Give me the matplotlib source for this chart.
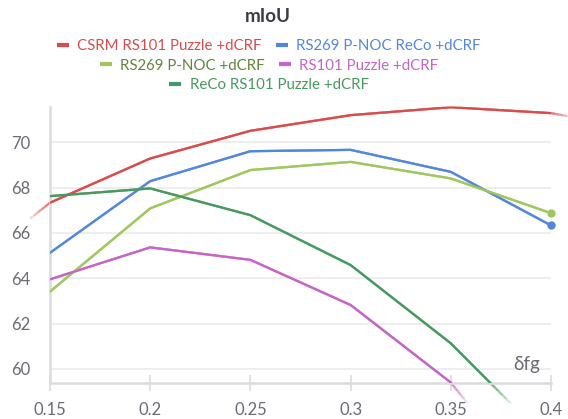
import numpy as np
import matplotlib
matplotlib.use('Agg')
import matplotlib.pyplot as plt
from matplotlib.lines import Line2D
from matplotlib.transforms import Bbox

plt.rcParams['font.family'] = ['Lato', 'DejaVu Sans']

## data
x_red = [0.10, 0.15, 0.20, 0.25, 0.30, 0.35, 0.40, 0.45]
y_red = [63.8, 67.33, 69.28, 70.50, 71.19, 71.54, 71.28, 70.5]
x_pts = [0.15, 0.20, 0.25, 0.30, 0.35, 0.40]
y_blue = [65.12, 68.28, 69.60, 69.66, 68.69, 66.33]
y_lgreen = [63.41, 67.08, 68.77, 69.13, 68.40, 66.87]
y_magenta = [63.95, 65.36, 64.81, 62.82, 59.40, 53.9]
y_dgreen = [67.62, 67.96, 66.78, 64.58, 61.13, 56.7]

labels = ['CSRM RS101 Puzzle +dCRF', 'RS269 P-NOC ReCo +dCRF',
          'RS269 P-NOC +dCRF', 'RS101 Puzzle +dCRF',
          'ReCo RS101 Puzzle +dCRF']
colors = ['#DA4C4C', '#5387DD', '#A0C75C', '#C565C7', '#479A5F']
text_colors = ['#DA4C4C', '#5387DD', '#62853A', '#C565C7', '#479A5F']
series = [(x_red, y_red), (x_pts, y_blue), (x_pts, y_lgreen),
          (x_pts, y_magenta), (x_pts, y_dgreen)]
end_marker = [False, True, True, False, False]

xticks = [0.15, 0.2, 0.25, 0.3, 0.35, 0.4]
xticklabels = ['0.15', '0.2', '0.25', '0.3', '0.35', '0.4']
yticks = [60, 62, 64, 66, 68, 70]

W, H = 568, 419
fig = plt.figure(figsize=(W/100, H/100), dpi=100)
ax = fig.add_axes([50/W, 1 - 383/H, (551-50)/W, (383-107)/H])
ax.set_xlim(0.15, 0.4)
ax.set_ylim(59.38, 71.55)

# faded bits outside the plot area: stacked clip boxes
fig.canvas.draw()
for pad in [4, 8, 12, 16, 20]:
    bb = ax.bbox
    box = Bbox.from_extents(bb.x0 - pad, bb.y0 - pad, bb.x1 + pad, bb.y1 + pad)
    for (xs, ys), c in zip(series, colors):
        ln, = ax.plot(xs, ys, color=c, lw=1.6, alpha=0.22, clip_on=True,
                      solid_capstyle='butt')
        ln.set_clip_box(box)

for (xs, ys), c, m in zip(series, colors, end_marker):
    ax.plot(xs, ys, color=c, lw=1.6, clip_on=True, zorder=3)
    if m:
        ax.plot(xs[-1], ys[-1], 'o', color=c, ms=5, clip_on=False, zorder=4)

ax.set_xticks(xticks)
ax.set_xticklabels(xticklabels)
ax.set_yticks(yticks)
ax.grid(axis='y', color='#ebebeb', lw=1.2)
ax.set_axisbelow(True)
for s in ['top', 'right']:
    ax.spines[s].set_visible(False)
for s in ['left', 'bottom']:
    ax.spines[s].set_color('#dcdcdf')
    ax.spines[s].set_linewidth(1.8)
ax.tick_params(axis='x', direction='inout', length=11, width=1.2,
               color='#dcdcdf', labelsize=12, labelcolor='#6b6b76', pad=8)
ax.tick_params(axis='y', length=0, labelsize=12, labelcolor='#6b6b76', pad=14)
ax.annotate('δfg', xy=(0.4, 59.38), xytext=(-8, 7), textcoords='offset points',
            ha='right', va='bottom', fontsize=13.5, color='#6b6b76')

fig.text(268/W, 1 - 17/H, 'mIoU', ha='center', va='center', fontsize=13.5,
         fontweight='bold', color='#3b3b45')

# legend, three centred rows
rows = [[0, 1], [2, 3], [4]]
row_y = [46, 65.5, 85]
for r, yy in zip(rows, row_y):
    handles = [Line2D([], [], color=colors[i], lw=3, solid_capstyle='butt')
               for i in r]
    leg = fig.legend(handles, [labels[i] for i in r], loc='center',
                     bbox_to_anchor=(269/W, 1 - yy/H), ncol=len(r),
                     frameon=False, fontsize=10.8,
                     handlelength=0.8, handletextpad=0.55, columnspacing=0.95,
                     borderpad=0, borderaxespad=0)
    for t, i in zip(leg.get_texts(), r):
        t.set_color(text_colors[i])

fig.savefig('out.png', dpi=100)
